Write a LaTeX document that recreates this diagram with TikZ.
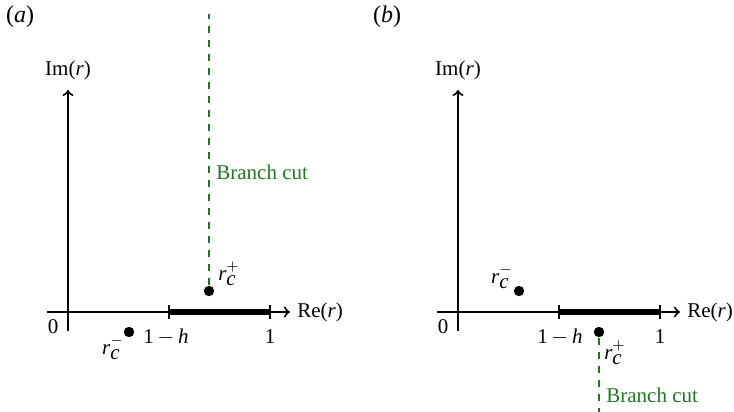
\documentclass[tikz,border=0pt]{standalone}
\usepackage{fontspec}
\setmainfont{Liberation Serif}
\begin{document}
\begin{tikzpicture}[x=0.5pt,y=-0.5pt,
  axis/.style={line width=1pt},
  arrowaxis/.style={axis,->},
  seg/.style={line width=2.6pt},
  tick/.style={line width=1pt},
  pt/.style={circle,fill=black,inner sep=0pt,minimum size=5.2pt},
  cut/.style={draw=cutgreen,dash pattern=on 3.5pt off 3.5pt,line width=1pt},
  lbl/.style={font=\fontsize{10.5}{12}\selectfont,inner sep=0pt},
  cutlbl/.style={lbl,text=cutgreen,anchor=west},
  panel/.style={font=\fontsize{12}{14}\selectfont,inner sep=0pt}]
\definecolor{cutgreen}{RGB}{30,120,30}
\useasboundingbox (0,0) rectangle (734,412);
% ---------- panel (a)
\node[panel] (pa) at (20,17) {(\textit{a})};
\coordinate (aYt) at (68,90);
\coordinate (aYb) at (68,331);
\coordinate (aXl) at (47,312);
\coordinate (aXr) at (290,312);
\coordinate (aT1) at (169,312);
\coordinate (aT2) at (270,312);
\draw[arrowaxis] (aYb) -- (aYt);
\draw[arrowaxis] (aXl) -- (aXr);
\draw[seg] (aT1) -- (aT2);
\draw[tick] ([yshift=3.5pt]aT1) -- ([yshift=-3.5pt]aT1);
\draw[tick] ([yshift=3.5pt]aT2) -- ([yshift=-3.5pt]aT2);
\node[lbl] (aIm) at (68,70) {Im(\textit{r})};
\node[lbl,anchor=west] (aRe) at (297,312) {Re(\textit{r})};
\node[lbl] (a0) at (53,327) {0};
\node[lbl] (a1h) at (166,337) {1\,$-$\,\textit{h}};
\node[lbl] (a1) at (270,337) {1};
\node[pt] (arp) at (209,291) {};
\node[pt] (arm) at (129,332) {};
\coordinate (acut) at (209,14);
\draw[cut] (arp) -- (acut);
\node[lbl] (arpl) at (229,274) {$\textit{r}^{+}_{\textit{c}}$};
\node[lbl] (arml) at (113,348) {$\textit{r}^{-}_{\textit{c}}$};
\node[cutlbl] (abc) at (216,172) {Branch cut};
% ---------- panel (b)
\node[panel] (pb) at (387,17) {(\textit{b})};
\coordinate (bYt) at (458,90);
\coordinate (bYb) at (458,331);
\coordinate (bXl) at (437,312);
\coordinate (bXr) at (680,312);
\coordinate (bT1) at (559,312);
\coordinate (bT2) at (660,312);
\draw[arrowaxis] (bYb) -- (bYt);
\draw[arrowaxis] (bXl) -- (bXr);
\draw[seg] (bT1) -- (bT2);
\draw[tick] ([yshift=3.5pt]bT1) -- ([yshift=-3.5pt]bT1);
\draw[tick] ([yshift=3.5pt]bT2) -- ([yshift=-3.5pt]bT2);
\node[lbl] (bIm) at (458,70) {Im(\textit{r})};
\node[lbl,anchor=west] (bRe) at (687,312) {Re(\textit{r})};
\node[lbl] (b0) at (443,327) {0};
\node[lbl] (b1h) at (560,337) {1\,$-$\,\textit{h}};
\node[lbl] (b1) at (660,337) {1};
\node[pt] (brm) at (519,291) {};
\node[pt] (brp) at (599,332) {};
\coordinate (bcut) at (599,412);
\draw[cut] (brp) -- (bcut);
\node[lbl] (brml) at (502,277) {$\textit{r}^{-}_{\textit{c}}$};
\node[lbl] (brpl) at (615,353) {$\textit{r}^{+}_{\textit{c}}$};
\node[cutlbl] (bbc) at (606,395) {Branch cut};
\end{tikzpicture}
\end{document}
